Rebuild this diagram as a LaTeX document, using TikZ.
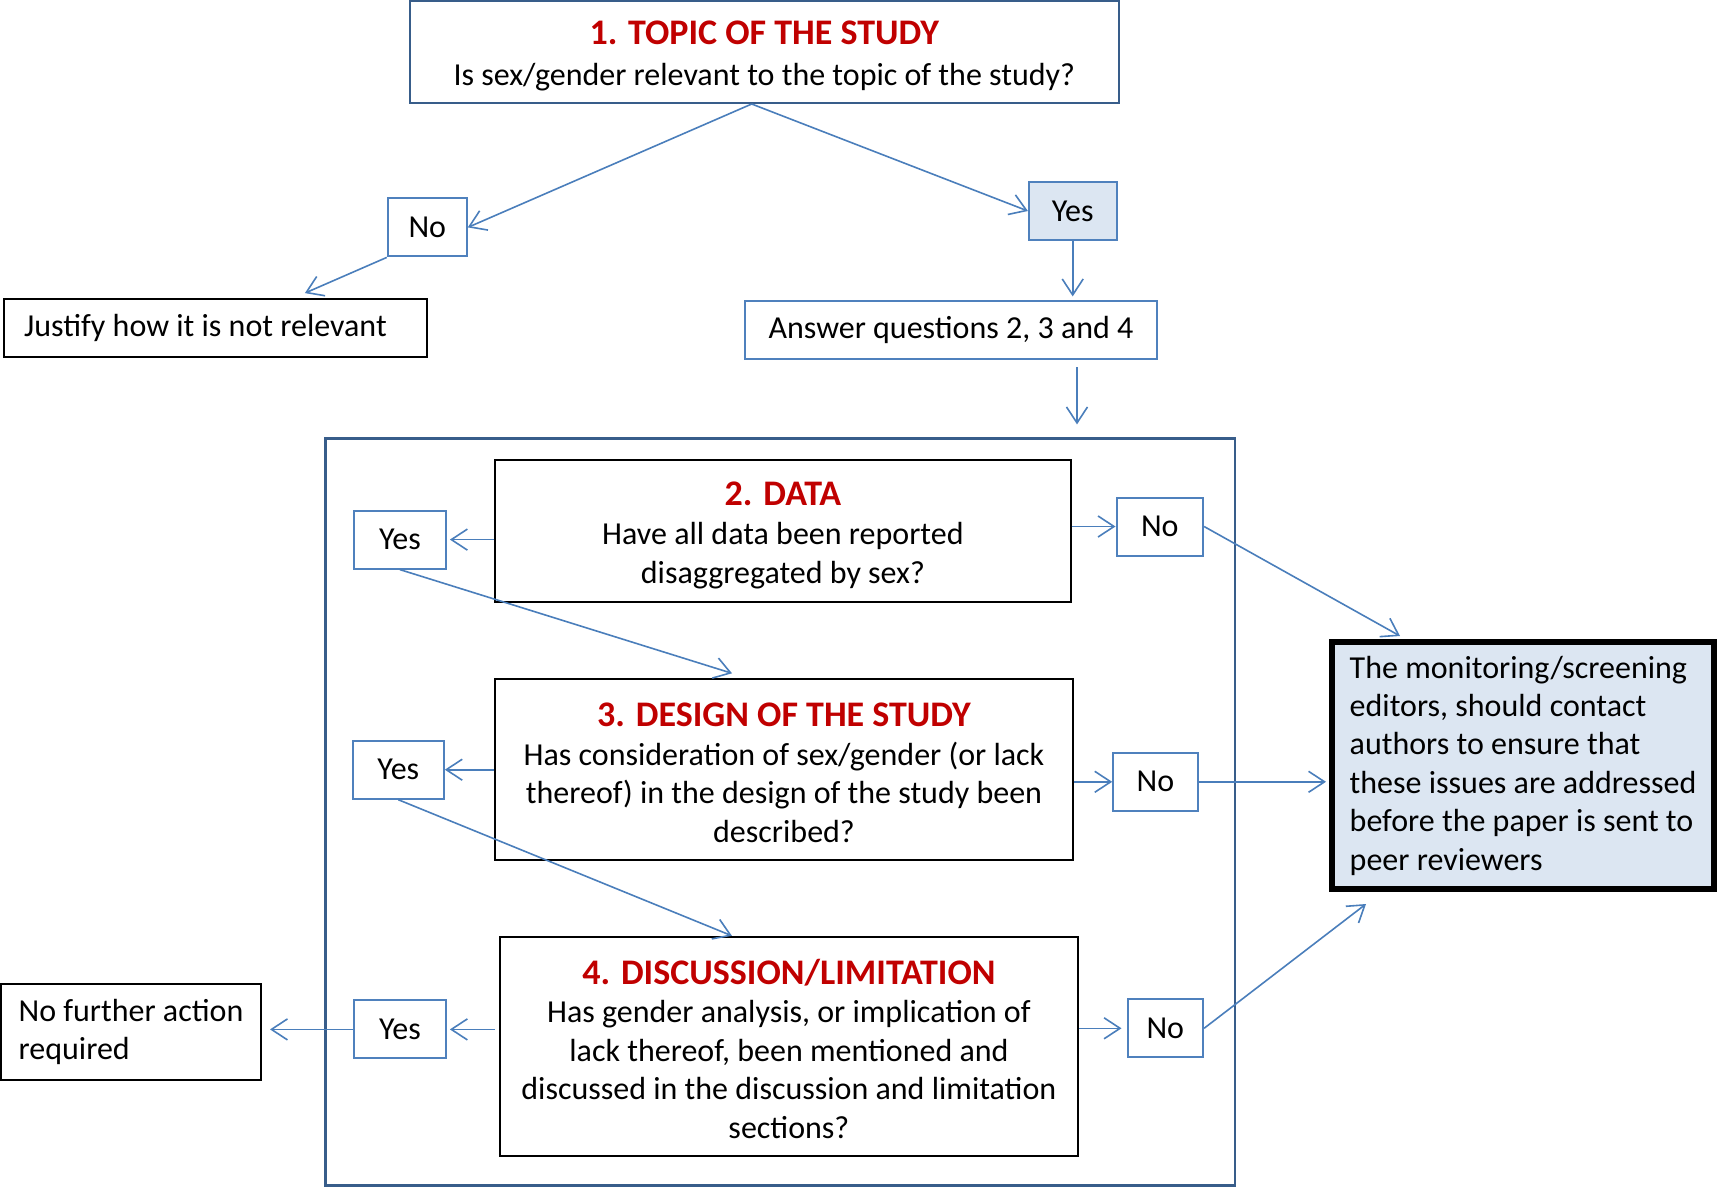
\documentclass[tikz,border=0pt]{standalone}
\usepackage{fontspec}
\setmainfont{Carlito}
\usetikzlibrary{arrows.meta,calc}
\definecolor{lineblue}{HTML}{4A7EBB}
\definecolor{boxblue}{HTML}{4F81BD}
\definecolor{darkblue}{HTML}{385D8A}
\definecolor{titlered}{HTML}{C00000}
\definecolor{lightfill}{HTML}{DCE6F2}
\newcommand{\ttlf}{\bfseries\fontsize{18}{21.6}\selectfont\color{titlered}\rule{0pt}{15pt}}
\newcommand{\ttlt}{\bfseries\fontsize{18}{21.6}\selectfont\color{titlered}\rule{0pt}{16pt}}
\tikzset{
  base/.style={inner sep=0pt, align=center, font=\fontsize{16}{19.2}\selectfont},
  qbox/.style={base, draw=black, line width=1pt},
  yn/.style={base, draw=boxblue, line width=1pt, minimum height=29pt},
  arr/.style={draw=lineblue, line width=0.8pt, -{Straight Barb[length=8pt,width=10.5pt]}},
}
\begin{document}
\begin{tikzpicture}[x=0.5pt,y=-0.5pt]
\useasboundingbox (0,0) rectangle (1718,1188);
% container
\node[draw=darkblue, line width=1.4pt, minimum width=454.75pt, minimum height=373.6pt, inner sep=0pt] (frame) at (780.2,811.9) {};
% top
\node[base, draw=darkblue, line width=1pt, minimum width=354.5pt, minimum height=51pt] (topic) at (764.3,52)
  {{\ttlt 1. TOPIC OF THE STUDY}\\[1.5pt] Is sex/gender relevant to the topic of the study?};
\node[yn, minimum width=39.5pt] (notop) at (427.3,227.4) {No};
\node[yn, minimum width=43.8pt, fill=lightfill] (yestop) at (1072.7,211) {Yes};
\node[base, draw=black, line width=1pt, minimum height=29pt, text width=191.8pt, inner xsep=9.85pt, align=flush left] (just) at (215.9,328.1) {Justify how it is not relevant};
\node[base, draw=boxblue, line width=1pt, minimum width=206pt, minimum height=29pt] (ans) at (951,330.4) {Answer questions 2, 3 and 4};
% questions
\node[qbox, minimum width=287.6pt, minimum height=70.65pt] (data) at (782.9,530.9)
  {{\ttlt 2. DATA}\\[0.5pt] Have all data been reported\\ disaggregated by sex?};
\node[yn, minimum width=46pt] (yesd) at (399.9,539.6) {Yes};
\node[yn, minimum width=43.3pt] (nod) at (1159.8,526.5) {No};
\node[qbox, minimum width=288.7pt, minimum height=90.4pt] (design) at (784,769.7)
  {{\ttlf 3. DESIGN OF THE STUDY}\\[0pt] Has consideration of sex/gender (or lack\\ thereof) in the design of the study been\\ described?};
\node[yn, minimum width=45.5pt] (yesdes) at (398.3,769.7) {Yes};
\node[yn, minimum width=42.2pt] (nodes) at (1155.4,781.8) {No};
\node[qbox, minimum width=289.3pt, minimum height=109.6pt] (disc) at (788.9,1046.4)
  {{\ttlf 4. DISCUSSION/LIMITATION}\\[0pt] Has gender analysis, or implication of\\ lack thereof, been mentioned and\\ discussed in the discussion and limitation\\ sections?};
\node[yn, minimum width=46pt] (yesdisc) at (399.9,1029.4) {Yes};
\node[yn, minimum width=37.8pt] (nodisc) at (1165.3,1028.3) {No};
\node[base, draw=black, line width=1pt, minimum height=48.25pt, minimum width=130pt, align=left] (nofur) at (131,1032.2) {No further action\\ required};
\node[base, draw=black, line width=3pt, fill=lightfill, minimum height=123.5pt, minimum width=191pt, align=left] (editors) at (1523,765.5)
  {The monitoring/screening\\ editors, should contact\\ authors to ensure that\\ these issues are addressed\\ before the paper is sent to\\ peer reviewers};
% connectors
\coordinate (tsplit) at ($(topic.south)+(-12.6,0)$);
\draw[arr] (tsplit) -- (notop.east);
\draw[arr] (tsplit) -- (yestop.west);
\draw[arr] (notop.south west) -- ($(just.north)+(89,-5)$);
\draw[arr] (yestop.south) -- ($(yestop.south |- ans.north)+(0,-4)$);
\draw[arr] ($(ans.south)+(126,7)$) -- ($(ans.south)+(126,64)$);
\draw[arr] (data.west |- yesd) -- ($(yesd.east)+(3,0)$);
\draw[arr] (data.east |- nod) -- (nod.west);
\draw[arr] (yesd.south) -- ($(design.north)+(-52,-5)$);
\draw[arr] (nod.east) -- ($(editors.north)+(-123,-3)$);
\draw[arr] (design.west |- yesdes) -- (yesdes.east);
\draw[arr] (design.east |- nodes) -- (nodes.west);
\draw[arr] (nodes.east) -- ($(editors.west |- nodes)+(-3,0)$);
\draw[arr] (yesdes.south) -- ($(disc.north)+(-57,0)$);
\draw[arr] ($(disc.west |- yesdisc)+(-4,0)$) -- ($(yesdisc.east)+(3,0)$);
\draw[arr] (yesdisc.west) -- ($(nofur.east |- yesdisc)+(8,0)$);
\draw[arr] (disc.east |- nodisc) -- ($(nodisc.west)+(-5,0)$);
\draw[arr] (nodisc.east) -- ($(editors.south)+(-157,12)$);
\end{tikzpicture}
\end{document}
